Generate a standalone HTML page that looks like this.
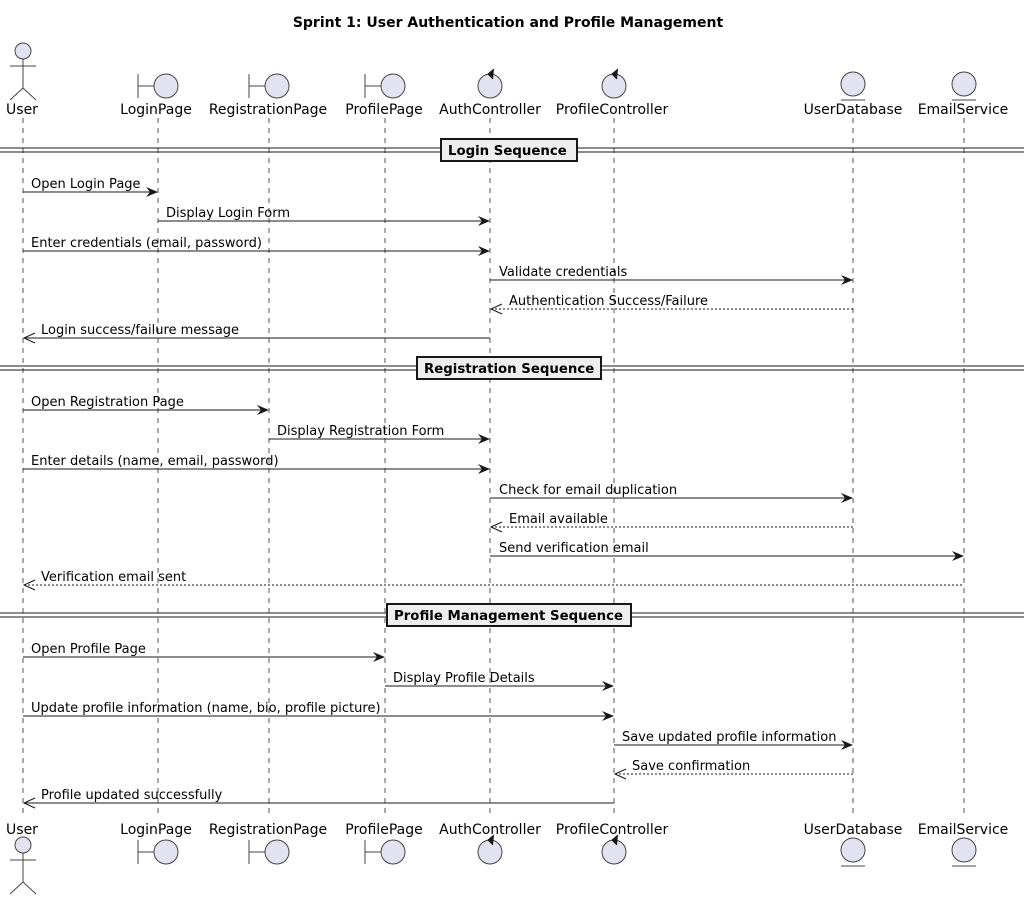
<!DOCTYPE html>
<html><head><meta charset="utf-8"><style>
html,body{margin:0;padding:0;background:#fff}
svg{display:block}
text{font-family:"DejaVu Sans","Liberation Sans",sans-serif;font-size:13px;fill:#000}
.p{font-size:14px}
.t{font-weight:bold;font-size:14px}
.b{font-weight:bold;font-size:13.3px}
.ll{stroke:#555;stroke-width:1;stroke-dasharray:5,5}
.sh{fill:#e2e2f0;stroke:#444;stroke-width:1}
.m{stroke:#181818;stroke-width:1;fill:none}
.d{stroke:#181818;stroke-width:1;stroke-dasharray:2,2;fill:none}
.ah{fill:#181818}
</style></head><body>
<svg width="1024" height="901" viewBox="0 0 1024 901" xmlns="http://www.w3.org/2000/svg">
<defs>
<g id="actor"><circle class="sh" cx="0" cy="0" r="8"/><path d="M0 8V37M-13 15H13M0 37L-13 49M0 37L13 49" stroke="#444" fill="none"/></g>
<g id="bnd"><path d="M-20 -12V12M-20 0H-4" stroke="#444" fill="none"/><circle class="sh" cx="8" cy="0" r="12"/></g>
<g id="ctl"><circle class="sh" cx="0" cy="0" r="12"/><path d="M4 -17L-2 -12L3 -7" fill="#181818" stroke="#181818"/></g>
<g id="ent"><circle class="sh" cx="0" cy="-2" r="12"/><path d="M-12 14H12" stroke="#444"/></g>
</defs>
<text class="t" x="508" y="27" text-anchor="middle">Sprint 1: User Authentication and Profile Management</text>

<g>
<line class="ll" x1="23" y1="118" x2="23" y2="818"/>
<line class="ll" x1="158" y1="118" x2="158" y2="818"/>
<line class="ll" x1="269" y1="118" x2="269" y2="818"/>
<line class="ll" x1="385" y1="118" x2="385" y2="818"/>
<line class="ll" x1="490" y1="118" x2="490" y2="818"/>
<line class="ll" x1="614" y1="118" x2="614" y2="818"/>
<line class="ll" x1="853" y1="118" x2="853" y2="818"/>
<line class="ll" x1="964" y1="118" x2="964" y2="818"/>
</g>

<use href="#actor" x="23" y="51"/>
<use href="#bnd" x="158" y="86"/>
<use href="#bnd" x="269" y="86"/>
<use href="#bnd" x="385" y="86"/>
<use href="#ctl" x="490" y="86"/>
<use href="#ctl" x="614" y="86"/>
<use href="#ent" x="853" y="86"/>
<use href="#ent" x="964" y="86"/>
<g text-anchor="middle" class="p">
<text class="p" x="22" y="114">User</text><text class="p" x="156" y="114">LoginPage</text><text class="p" x="268" y="114">RegistrationPage</text><text class="p" x="384" y="114">ProfilePage</text><text class="p" x="490" y="114">AuthController</text><text class="p" x="612" y="114">ProfileController</text><text class="p" x="853" y="114">UserDatabase</text><text class="p" x="963" y="114">EmailService</text>
</g>
<g text-anchor="middle">
<text class="p" x="22" y="834">User</text><text class="p" x="156" y="834">LoginPage</text><text class="p" x="268" y="834">RegistrationPage</text><text class="p" x="384" y="834">ProfilePage</text><text class="p" x="490" y="834">AuthController</text><text class="p" x="612" y="834">ProfileController</text><text class="p" x="853" y="834">UserDatabase</text><text class="p" x="963" y="834">EmailService</text>
</g>
<use href="#actor" x="23" y="845"/>
<use href="#bnd" x="158" y="852"/>
<use href="#bnd" x="269" y="852"/>
<use href="#bnd" x="385" y="852"/>
<use href="#ctl" x="490" y="852"/>
<use href="#ctl" x="614" y="852"/>
<use href="#ent" x="853" y="852"/>
<use href="#ent" x="964" y="852"/>

<g stroke="#181818" stroke-width="1">
<line x1="0" y1="148" x2="1024" y2="148"/><line x1="0" y1="152" x2="1024" y2="152"/>
<line x1="0" y1="366" x2="1024" y2="366"/><line x1="0" y1="370" x2="1024" y2="370"/>
<line x1="0" y1="613" x2="1024" y2="613"/><line x1="0" y1="617" x2="1024" y2="617"/>
</g>
<rect x="441" y="139" width="136" height="22" fill="#eee" stroke="#181818" stroke-width="2"/>
<text class="b" x="448" y="155">Login Sequence</text>
<rect x="417" y="357" width="184" height="22" fill="#eee" stroke="#181818" stroke-width="2"/>
<text class="b" x="424" y="373">Registration Sequence</text>
<rect x="387" y="604" width="244" height="22" fill="#eee" stroke="#181818" stroke-width="2"/>
<text class="b" x="394" y="620">Profile Management Sequence</text>

<g>
<line class="m" x1="23" y1="192" x2="157" y2="192"/><path class="ah" d="M158 192l-12 -5 4 5 -4 5z"/>
<text x="31" y="188">Open Login Page</text>
<line class="m" x1="158" y1="221" x2="489" y2="221"/><path class="ah" d="M490 221l-12 -5 4 5 -4 5z"/>
<text x="166" y="217">Display Login Form</text>
<line class="m" x1="23" y1="251" x2="489" y2="251"/><path class="ah" d="M490 251l-12 -5 4 5 -4 5z"/>
<text x="31" y="247">Enter credentials (email, password)</text>
<line class="m" x1="490" y1="280" x2="852" y2="280"/><path class="ah" d="M853 280l-12 -5 4 5 -4 5z"/>
<text x="499" y="276">Validate credentials</text>
<line class="d" x1="491" y1="309" x2="853" y2="309"/><path class="m" d="M502 304l-11 5 11 5"/>
<text x="509" y="305">Authentication Success/Failure</text>
<line class="m" x1="24" y1="338" x2="490" y2="338"/><path class="m" d="M35 333l-11 5 11 5"/>
<text x="41" y="334">Login success/failure message</text>

<line class="m" x1="23" y1="410" x2="268" y2="410"/><path class="ah" d="M269 410l-12 -5 4 5 -4 5z"/>
<text x="31" y="406">Open Registration Page</text>
<line class="m" x1="269" y1="439" x2="489" y2="439"/><path class="ah" d="M490 439l-12 -5 4 5 -4 5z"/>
<text x="277" y="435">Display Registration Form</text>
<line class="m" x1="23" y1="469" x2="489" y2="469"/><path class="ah" d="M490 469l-12 -5 4 5 -4 5z"/>
<text x="31" y="465">Enter details (name, email, password)</text>
<line class="m" x1="490" y1="498" x2="852" y2="498"/><path class="ah" d="M853 498l-12 -5 4 5 -4 5z"/>
<text x="499" y="494">Check for email duplication</text>
<line class="d" x1="491" y1="527" x2="853" y2="527"/><path class="m" d="M502 522l-11 5 11 5"/>
<text x="509" y="523">Email available</text>
<line class="m" x1="490" y1="556" x2="963" y2="556"/><path class="ah" d="M964 556l-12 -5 4 5 -4 5z"/>
<text x="499" y="552">Send verification email</text>
<line class="d" x1="24" y1="585" x2="964" y2="585"/><path class="m" d="M35 580l-11 5 11 5"/>
<text x="41" y="581">Verification email sent</text>

<line class="m" x1="23" y1="657" x2="384" y2="657"/><path class="ah" d="M385 657l-12 -5 4 5 -4 5z"/>
<text x="31" y="653">Open Profile Page</text>
<line class="m" x1="385" y1="686" x2="613" y2="686"/><path class="ah" d="M614 686l-12 -5 4 5 -4 5z"/>
<text x="393" y="682">Display Profile Details</text>
<line class="m" x1="23" y1="716" x2="613" y2="716"/><path class="ah" d="M614 716l-12 -5 4 5 -4 5z"/>
<text x="31" y="712">Update profile information (name, bio, profile picture)</text>
<line class="m" x1="614" y1="745" x2="852" y2="745"/><path class="ah" d="M853 745l-12 -5 4 5 -4 5z"/>
<text x="622" y="741">Save updated profile information</text>
<line class="d" x1="615" y1="774" x2="853" y2="774"/><path class="m" d="M626 769l-11 5 11 5"/>
<text x="632" y="770">Save confirmation</text>
<line class="m" x1="24" y1="803" x2="614" y2="803"/><path class="m" d="M35 798l-11 5 11 5"/>
<text x="41" y="799">Profile updated successfully</text>
</g>
</svg>
</body></html>
